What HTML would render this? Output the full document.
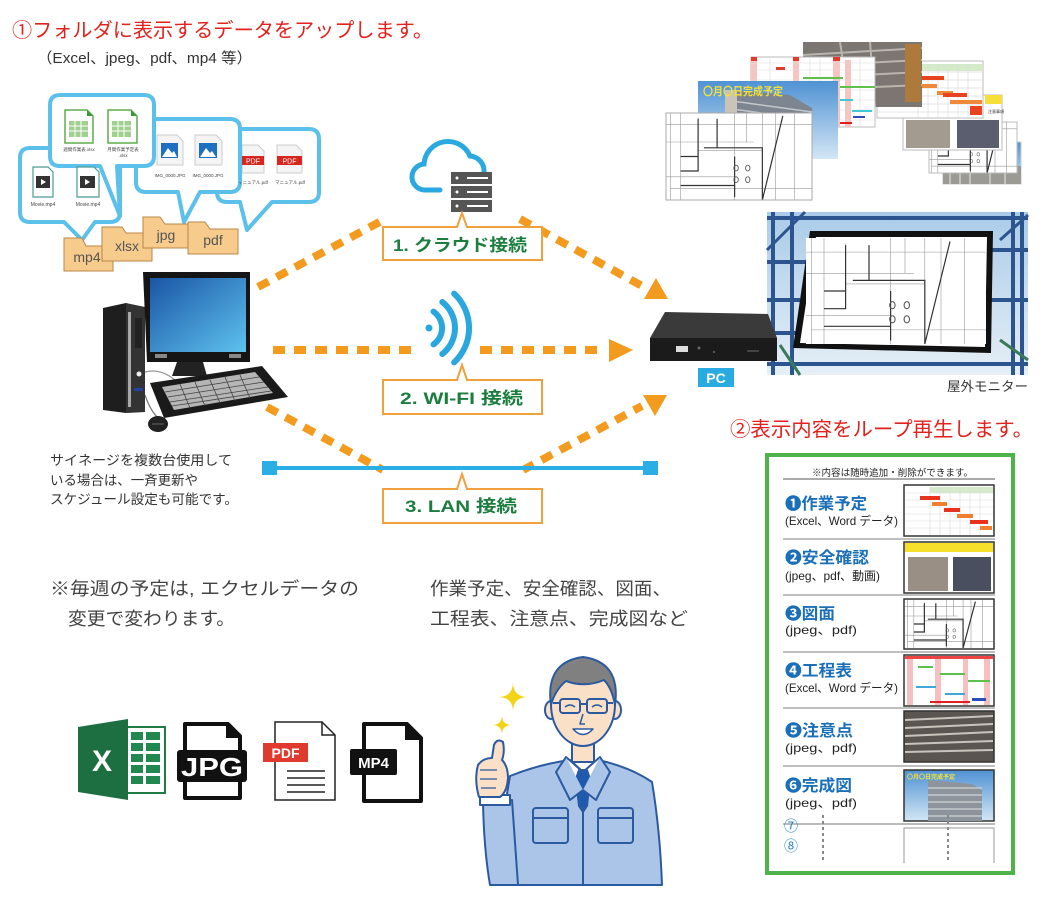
<!DOCTYPE html>
<html><head><meta charset="utf-8">
<style>
html,body{margin:0;padding:0;background:#fff;}
svg{display:block;}
text{font-family:"Liberation Sans","Noto Sans CJK JP",sans-serif;}
</style></head><body>
<svg width="1063" height="914" viewBox="0 0 1063 914" xmlns="http://www.w3.org/2000/svg">
<defs>
<linearGradient id="scr" x1="0" y1="0" x2="1" y2="1"><stop offset="0" stop-color="#1a55a5"/><stop offset="1" stop-color="#5ec2ee"/></linearGradient>
<linearGradient id="sky" x1="0" y1="0" x2="0" y2="1"><stop offset="0" stop-color="#4f92d3"/><stop offset="1" stop-color="#d3e6f5"/></linearGradient>
<linearGradient id="sky3" x1="0" y1="0" x2="0" y2="1"><stop offset="0" stop-color="#a9cbe8"/><stop offset="1" stop-color="#e6eff6"/></linearGradient>
<symbol id="plan" viewBox="0 0 100 60" preserveAspectRatio="none">
<rect x="0" y="0" width="100" height="60" fill="#fff"/>
<path d="M3,0V60 M10,0V60 M22,3V38 M47,0V60 M66,0V60 M88,0V60 M0,8H100 M0,20H60 M22,26H66 M0,44H47 M3,52H100 M75,0V60 M55,0V20" fill="none" stroke="#999" stroke-width="0.6" vector-effect="non-scaling-stroke"/>
<path d="M22,4V40H10 M35,4V24H66V60 M26,24H40 M80,2L66,60 M10,50H47 M10,30H22 M47,30V58" fill="none" stroke="#333" stroke-width="1.2" vector-effect="non-scaling-stroke"/>
<g fill="none" stroke="#555" stroke-width="0.6" vector-effect="non-scaling-stroke">
<ellipse cx="48" cy="38" rx="1.5" ry="2"/><ellipse cx="56" cy="38" rx="1.5" ry="2"/><ellipse cx="48" cy="46" rx="1.5" ry="2"/><ellipse cx="56" cy="46" rx="1.5" ry="2"/>
</g>
</symbol>
</defs>

<!-- Titles -->
<text x="12" y="37" font-size="20" fill="#e3211d" textLength="421" lengthAdjust="spacingAndGlyphs">①フォルダに表示するデータをアップします。</text>
<text x="37" y="63" font-size="15" fill="#333" textLength="215" lengthAdjust="spacingAndGlyphs">（Excel、jpeg、pdf、mp4 等）</text>

<!-- Bubbles -->
<g fill="#fff" stroke="#5bc0ea" stroke-width="4" stroke-linejoin="round">
<path d="M227,129 H309 Q319,129 319,139 V192 Q319,202 309,202 H272 L247,230 L240,202 H227 Q217,202 217,192 V139 Q217,129 227,129 Z"/>
<path d="M30,148 H110 Q120,148 120,158 V212 Q120,222 110,222 H95 L82,240 L64,222 H30 Q20,222 20,212 V158 Q20,148 30,148 Z"/>
<path d="M146,119 H230 Q240,119 240,129 V182 Q240,192 230,192 H200 L184,222 L178,192 H146 Q136,192 136,182 V129 Q136,119 146,119 Z"/>
<path d="M60,95 H144 Q154,95 154,105 V156 Q154,166 144,166 H117 L120,216 L100,166 H60 Q50,166 50,156 V105 Q50,95 60,95 Z"/>
</g>
<!-- bubble 1 icons: video -->
<g>
<path d="M33,167 H48 L53,172 V197 H33 Z" fill="#fff" stroke="#4a9c94" stroke-width="1.2"/>
<rect x="36" y="176" width="14" height="12" fill="#333"/><path d="M41,179 L46,182 L41,185 Z" fill="#fff"/>
<path d="M77,167 H94 L99,172 V197 H77 Z" fill="#fff" stroke="#4a9c94" stroke-width="1.2"/>
<rect x="80" y="176" width="15" height="12" fill="#333"/><path d="M85,179 L90,182 L85,185 Z" fill="#fff"/>
<text x="43" y="206" font-size="5" fill="#444" text-anchor="middle">Movie.mp4</text>
<text x="88" y="206" font-size="5" fill="#444" text-anchor="middle">Movie.mp4</text>
</g>
<!-- bubble 2 icons: xlsx -->
<g>
<path d="M65,110 H87 L93,116 V143 H65 Z" fill="#fff" stroke="#5cae4a" stroke-width="1.5"/><path d="M87,110 L93,116 H87 Z" fill="#3a9a3a"/>
<rect x="69" y="121" width="19" height="16" fill="#9fd08f"/><path d="M69,126H88 M69,131H88 M75,121V137 M81,121V137" stroke="#fff" stroke-width="1"/>
<path d="M108,110 H131 L137,116 V143 H108 Z" fill="#fff" stroke="#5cae4a" stroke-width="1.5"/><path d="M131,110 L137,116 H131 Z" fill="#3a9a3a"/>
<rect x="112" y="121" width="19" height="16" fill="#9fd08f"/><path d="M112,126H131 M112,131H131 M118,121V137 M124,121V137" stroke="#fff" stroke-width="1"/>
<text x="79" y="151" font-size="4.5" fill="#444" text-anchor="middle">週間作業表.xlsx</text>
<text x="123" y="151" font-size="4.5" fill="#444" text-anchor="middle">月間作業予定表</text>
<text x="123" y="157" font-size="4.5" fill="#444" text-anchor="middle">.xlsx</text>
</g>
<!-- bubble 3 icons: image -->
<g>
<path d="M157,135 H177 L183,141 V165 H157 Z" fill="#f4f4f4" stroke="#ccc" stroke-width="1"/>
<rect x="161" y="143" width="17" height="15" fill="#1f6fc0"/><path d="M162,157 L168,148 L172,153 L174,151 L177,157 Z" fill="#fff"/>
<path d="M195,135 H216 L222,141 V165 H195 Z" fill="#f4f4f4" stroke="#ccc" stroke-width="1"/>
<rect x="199" y="143" width="18" height="15" fill="#1f6fc0"/><path d="M200,157 L206,148 L210,153 L212,151 L216,157 Z" fill="#fff"/>
<text x="170" y="177" font-size="4.5" fill="#444" text-anchor="middle">IMG_0000.JPG</text>
<text x="208" y="177" font-size="4.5" fill="#444" text-anchor="middle">IMG_0000.JPG</text>
</g>
<!-- bubble 4 icons: pdf -->
<g>
<path d="M242,145 H258 L264,151 V173 H242 Z" fill="#f4f4f4" stroke="#ccc" stroke-width="1"/>
<rect x="242" y="156" width="22" height="9" fill="#d7261e"/><text x="253" y="163.5" font-size="7" fill="#fff" text-anchor="middle">PDF</text>
<path d="M277,145 H296 L302,151 V173 H277 Z" fill="#f4f4f4" stroke="#ccc" stroke-width="1"/>
<rect x="277" y="156" width="25" height="9" fill="#d7261e"/><text x="289.5" y="163.5" font-size="7" fill="#fff" text-anchor="middle">PDF</text>
<text x="253" y="184" font-size="4.5" fill="#444" text-anchor="middle">マニュアル.pdf</text>
<text x="290" y="184" font-size="4.5" fill="#444" text-anchor="middle">マニュアル.pdf</text>
</g>
<!-- re-draw bubble 3 border over bubble 4 icon region -->
<path d="M240,129 V182" stroke="#5bc0ea" stroke-width="4" fill="none"/>

<!-- Folders -->
<g fill="#f7cb8c" stroke="#b8874a" stroke-width="1">
<path d="M64,238 H82 L86,246 H113 V271 H64 Z"/>
<path d="M102,227 H122 L126,233 H152 V261 H102 Z"/>
<path d="M143,217 H160 L165,224 H188 V248 H143 Z"/>
<path d="M188,222 H205 L210,229 H238 V254 H188 Z"/>
</g>
<g font-size="14" fill="#555" text-anchor="middle">
<text x="87" y="262">mp4</text>
<text x="127" y="251">xlsx</text>
<text x="166" y="240">jpg</text>
<text x="213" y="245">pdf</text>
</g>

<!-- Desktop PC -->
<g>
<path d="M145,395 Q150,410 158,418" stroke="#777" stroke-width="1.2" fill="none"/>
<path d="M145,372 Q160,368 175,380" stroke="#999" stroke-width="1.2" fill="none"/>
<polygon points="103,308 126,303 126,413 103,410" fill="#1e1e1e"/>
<polygon points="126,303 145,307 145,412 126,413" fill="#333"/>
<rect x="128" y="312" width="3" height="95" fill="#a8a8a8"/>
<rect x="135" y="318" width="7" height="30" fill="#222"/>
<circle cx="139" cy="374" r="2.5" fill="#eee"/>
<rect x="134" y="388" width="9" height="3" fill="#2443a0"/>
<polygon points="143,272 250,272 250,362 147,362" fill="#151515"/>
<rect x="150" y="278" width="96" height="74" fill="url(#scr)"/>
<rect x="155" y="354" width="12" height="4" fill="#888"/><rect x="229" y="354" width="12" height="4" fill="#888"/>
<polygon points="177,362 203,362 207,376 172,376" fill="#222"/>
<polygon points="150,383 262,366 288,397 164,418" fill="#1a1a1a"/>
<polygon points="162,387 255,372 273,393 174,410" fill="#b5b5b5"/>
<g stroke="#444" stroke-width="0.8">
<path d="M165,392 L259,377 M168,397 L264,382 M170,402 L268,387 M172,406 L271,391"/>
<path d="M180,384 L190,408 M195,382 L205,406 M210,380 L220,403 M225,377 L235,401 M240,375 L250,398"/>
</g>
<ellipse cx="158" cy="424" rx="10" ry="8" fill="#222"/>
<path d="M152,424 H164" stroke="#666" stroke-width="1"/>
</g>
<g font-size="13.5" fill="#333">
<text x="50" y="465" textLength="182" lengthAdjust="spacingAndGlyphs">サイネージを複数台使用して</text>
<text x="50" y="485" textLength="148" lengthAdjust="spacingAndGlyphs">いる場合は、一斉更新や</text>
<text x="50" y="504" textLength="188" lengthAdjust="spacingAndGlyphs">スケジュール設定も可能です。</text>
</g>

<!-- Dashed connectors -->
<g stroke="#f39b1f" stroke-width="8" stroke-dasharray="12 9" fill="none">
<path d="M258,287 L387,218"/>
<path d="M520,219 L642,286"/>
<path d="M273,350 H418"/>
<path d="M480,350 H602"/>
<path d="M267,407 L383,470"/>
<path d="M523,470 L642,406"/>
</g>
<g fill="#f39b1f">
<polygon points="644,299 668,299 656,278"/>
<polygon points="609,339 633,350 609,362"/>
<polygon points="643,395 667,395 655,416"/>
</g>

<!-- LAN line -->
<path d="M270,468 H650" stroke="#2aaee6" stroke-width="4"/>
<rect x="262" y="461" width="15" height="14" fill="#2aaee6"/>
<rect x="643" y="461" width="15" height="14" fill="#2aaee6"/>

<!-- Cloud + server -->
<path d="M440,190 H426 A13,13 0 0 1 424,164 A24,24 0 0 1 470,156 A15,15 0 0 1 484,172" fill="none" stroke="#29a9e0" stroke-width="5" stroke-linecap="round"/>
<g fill="#555">
<rect x="451" y="172" width="41" height="12"/>
<rect x="451" y="186" width="41" height="12"/>
<rect x="451" y="200" width="41" height="12"/>
</g>
<g fill="#fff"><circle cx="457" cy="178" r="1.5"/><circle cx="457" cy="192" r="1.5"/><circle cx="457" cy="206" r="1.5"/>
<rect x="467" y="177" width="21" height="2"/><rect x="467" y="191" width="21" height="2"/><rect x="467" y="205" width="21" height="2"/></g>

<!-- WiFi -->
<g stroke="#2aa7df" stroke-width="6" fill="none" stroke-linecap="round">
<path d="M433.5,311.6 A20,20 0 0 1 433.5,344.4"/>
<path d="M442.3,302 A33,33 0 0 1 442.3,354"/>
<path d="M454.1,293.6 A47,47 0 0 1 454.1,362.4"/>
</g>
<circle cx="429" cy="328" r="3.5" fill="#2aa7df"/>

<!-- Label boxes -->
<g fill="#fff" stroke="#f0a03c" stroke-width="2">
<path d="M383,227 H457 L462,213 L467,227 H542 V260 H383 Z"/>
<path d="M383,380 H457 L462,365 L467,380 H542 V414 H383 Z"/>
<path d="M383,489 H457 L462,474 L467,489 H542 V523 H383 Z"/>
</g>
<g font-size="17" font-weight="bold" fill="#1b7d3e">
<text x="393" y="251" textLength="134" lengthAdjust="spacingAndGlyphs">1. クラウド接続</text>
<text x="400" y="404" textLength="123" lengthAdjust="spacingAndGlyphs">2. WI-FI 接続</text>
<text x="405" y="512" textLength="112" lengthAdjust="spacingAndGlyphs">3. LAN 接続</text>
</g>

<!-- Collage top right -->
<g>
<!-- H building small -->
<rect x="943" y="142" width="78" height="42" fill="url(#sky)" stroke="#ccc"/>
<rect x="943" y="166" width="78" height="18" fill="#9b9a95"/>
<path d="M950,166V184 M960,166V184 M970,166V184 M990,166V184 M1005,166V184" stroke="#cfcfcf" stroke-width="1.5"/>
<!-- G plan small -->
<use href="#plan" x="929" y="122" width="88" height="51"/>
<rect x="929" y="122" width="88" height="51" fill="none" stroke="#bbb"/>
<!-- F safety doc -->
<rect x="903" y="95" width="99" height="55" fill="#fff" stroke="#bbb"/>
<rect x="985" y="95" width="17" height="9" fill="#f6df3a"/>
<rect x="906" y="120" width="44" height="28" fill="#a39a90"/>
<rect x="957" y="120" width="42" height="28" fill="#5a5e6e"/>
<text x="988" y="113" font-size="4" fill="#333">注意事項</text>
<!-- E excel gantt -->
<rect x="877" y="61" width="106" height="57" fill="#fff" stroke="#bbb"/>
<rect x="918" y="64" width="65" height="7" fill="#d4eac8"/>
<path d="M877,72H983 M877,80H983 M877,88H983 M877,96H983 M877,104H983 M877,112H983 M918,61V118 M928,64V118 M938,64V118 M948,64V118 M958,64V118 M968,64V118" stroke="#ddd" stroke-width="0.7"/>
<g><rect x="922" y="76" width="22" height="4" fill="#e8421e"/><rect x="920" y="84" width="17" height="4" fill="#f08a3a"/><rect x="937" y="91" width="16" height="4" fill="#f08a3a"/><rect x="943" y="93" width="24" height="4" fill="#e8421e"/><rect x="950" y="100" width="32" height="4" fill="#f08a3a"/><rect x="970" y="106" width="12" height="9" fill="#e8421e"/></g>
<!-- D construction photo -->
<rect x="803" y="42" width="119" height="65" fill="#7b7671"/>
<path d="M803,55 L922,48 M803,66 L922,60 M803,78 L922,72 M803,90 L922,85 M840,42 L850,107 M870,42 L875,107" stroke="#b9b5ae" stroke-width="2"/>
<rect x="905" y="44" width="16" height="58" fill="#ad7a3c"/>
<!-- C pink gantt -->
<rect x="751" y="57" width="124" height="70" fill="#fff" stroke="#bbb"/>
<g fill="#f7c4c0"><rect x="751" y="60" width="6" height="67"/><rect x="793" y="60" width="6" height="67"/><rect x="833" y="60" width="7" height="67"/><rect x="845" y="60" width="6" height="67"/></g>
<path d="M751,63H875 M751,70H875 M751,80H875 M751,90H875 M751,100H875 M751,110H875 M751,120H875 M770,57V127 M810,57V127 M820,57V127 M860,57V127" stroke="#ddd" stroke-width="0.6"/>
<g><rect x="751" y="57" width="6" height="4" fill="#e23a2a"/><rect x="793" y="57" width="6" height="4" fill="#e23a2a"/><rect x="833" y="57" width="7" height="4" fill="#e23a2a"/><rect x="776" y="67" width="9" height="3" fill="#e23a2a"/><rect x="803" y="77" width="40" height="2" fill="#5ec24a"/><rect x="840" y="86" width="35" height="2" fill="#5ec24a"/><rect x="840" y="99" width="13" height="2" fill="#40c8d8"/><rect x="852" y="110" width="20" height="2" fill="#40c8d8"/><rect x="853" y="116" width="12" height="2" fill="#2a50c0"/><rect x="840" y="122" width="12" height="2" fill="#e02020"/></g>
<!-- B building photo -->
<rect x="698" y="81" width="140" height="78" fill="url(#sky)"/>
<polygon points="725,90 790,95 812,108 812,159 725,159" fill="#7d8590"/>
<path d="M725,100 L812,112 M725,108 L812,120 M725,116 L812,128 M725,124 L812,136 M725,132 L812,144 M725,140 L812,152" stroke="#c4c8cc" stroke-width="1.5"/>
<rect x="725" y="90" width="12" height="69" fill="#c9c3b8"/>
<text x="703" y="95" font-size="11" font-weight="bold" fill="#f2e03a" textLength="80" lengthAdjust="spacingAndGlyphs">〇月〇日完成予定</text>
<!-- A plan front -->
<use href="#plan" x="666" y="113" width="146" height="87"/>
<rect x="666" y="113" width="146" height="87" fill="none" stroke="#aaa"/>
</g>

<!-- Monitor photo -->
<rect x="767" y="212" width="261" height="163" fill="url(#sky3)"/>
<g stroke="#2c5590" stroke-width="4" fill="none">
<path d="M773,212V375 M792,212V375 M1013,212V375 M1022,212V375"/>
<path d="M767,218H1028 M767,262H812 M767,300H800 M990,300H1028 M767,333H800 M767,364H1028 M990,250H1028"/>
<path d="M767,250 L805,212 M1000,240 L1028,215" stroke-width="3"/>
</g>
<path d="M780,345 L800,375 M1000,340 L1028,360" stroke="#3a7a5a" stroke-width="3"/>
<polygon points="810,231 993,231 991,353 793,348" fill="#111"/>
<polygon points="816,237 987,237 985,347 800,343" fill="#fff"/>
<use href="#plan" x="806" y="238" width="180" height="106"/>

<!-- Set-top PC -->
<polygon points="665,312 768,314 777,338 650,338" fill="#3a3a3a"/>
<rect x="650" y="338" width="127" height="23" fill="#1b1b1b"/>
<rect x="676" y="346" width="12" height="6" fill="#ddd"/>
<circle cx="699" cy="348" r="1.5" fill="#666"/><circle cx="714" cy="352" r="1.2" fill="#555"/>
<rect x="747" y="350" width="12" height="2" fill="#444"/>
<rect x="698" y="368" width="36" height="19" fill="#29abe2"/>
<text x="716" y="383" font-size="14" font-weight="bold" fill="#fff" text-anchor="middle">PC</text>
<text x="947" y="391" font-size="13" fill="#333" textLength="81" lengthAdjust="spacingAndGlyphs">屋外モニター</text>

<text x="730" y="436" font-size="20" fill="#e3211d" textLength="303" lengthAdjust="spacingAndGlyphs">②表示内容をループ再生します。</text>

<!-- Green panel -->
<rect x="767" y="455" width="246" height="418" fill="#fff" stroke="#4db34a" stroke-width="4"/>
<text x="812" y="476" font-size="9.5" fill="#222" textLength="161" lengthAdjust="spacingAndGlyphs">※内容は随時追加・削除ができます。</text>
<path d="M783,479H995" stroke="#555" stroke-width="1"/>
<g stroke="#aaa" stroke-width="1.5">
<path d="M783,539H995 M783,595H995 M783,652H995 M783,708H995 M783,766H995"/>
</g>
<path d="M783,824H995" stroke="#777" stroke-width="1"/>
<g font-size="16" font-weight="bold" fill="#1a6fb8">
<text x="785" y="509" textLength="82" lengthAdjust="spacingAndGlyphs">❶作業予定</text>
<text x="785" y="563" textLength="84" lengthAdjust="spacingAndGlyphs">❷安全確認</text>
<text x="785" y="619" textLength="50" lengthAdjust="spacingAndGlyphs">❸図面</text>
<text x="785" y="676" textLength="67" lengthAdjust="spacingAndGlyphs">❹工程表</text>
<text x="785" y="736" textLength="68" lengthAdjust="spacingAndGlyphs">❺注意点</text>
<text x="785" y="791" textLength="67" lengthAdjust="spacingAndGlyphs">❻完成図</text>
</g>
<g font-size="12" fill="#222">
<text x="785" y="525" textLength="113" lengthAdjust="spacingAndGlyphs">(Excel、Word データ)</text>
<text x="785" y="580" textLength="95" lengthAdjust="spacingAndGlyphs">(jpeg、pdf、動画)</text>
<text x="785" y="634" textLength="72" lengthAdjust="spacingAndGlyphs">(jpeg、pdf)</text>
<text x="785" y="692" textLength="113" lengthAdjust="spacingAndGlyphs">(Excel、Word データ)</text>
<text x="785" y="752" textLength="72" lengthAdjust="spacingAndGlyphs">(jpeg、pdf)</text>
<text x="785" y="807" textLength="72" lengthAdjust="spacingAndGlyphs">(jpeg、pdf)</text>
</g>
<!-- row images -->
<g>
<rect x="904" y="485" width="90" height="51" fill="#fff" stroke="#333" stroke-width="1.5"/>
<rect x="930" y="487" width="63" height="6" fill="#d4eac8"/>
<path d="M905,493H993 M905,500H993 M905,507H993 M905,514H993 M905,521H993 M905,528H993 M930,487V535 M940,487V535 M950,487V535 M960,487V535 M970,487V535 M980,487V535" stroke="#ddd" stroke-width="0.6"/>
<rect x="920" y="496" width="20" height="4" fill="#e8321e"/><rect x="932" y="502" width="15" height="4" fill="#f08030"/><rect x="944" y="508" width="16" height="4" fill="#e8321e"/><rect x="957" y="514" width="16" height="4" fill="#f08030"/><rect x="970" y="520" width="18" height="4" fill="#e8321e"/><rect x="980" y="526" width="12" height="4" fill="#f08030"/>

<rect x="904" y="542" width="90" height="51" fill="#fff" stroke="#333" stroke-width="1.5"/>
<rect x="905" y="543" width="88" height="9" fill="#f5e12c"/>
<rect x="908" y="557" width="40" height="34" fill="#9a8f85"/>
<rect x="953" y="557" width="38" height="34" fill="#4a4f60"/>

<use href="#plan" x="905" y="600" width="88" height="48"/>
<rect x="904" y="599" width="90" height="50" fill="none" stroke="#333" stroke-width="1.5"/>

<rect x="904" y="655" width="90" height="51" fill="#fff" stroke="#333" stroke-width="1.5"/>
<g fill="#f6c0c0"><rect x="907" y="657" width="6" height="48"/><rect x="935" y="657" width="6" height="48"/><rect x="963" y="657" width="5" height="48"/><rect x="984" y="657" width="6" height="48"/></g>
<rect x="905" y="656" width="88" height="3" fill="#e44"/>
<rect x="918" y="666" width="15" height="2" fill="#5ec24a"/><rect x="940" y="673" width="25" height="2" fill="#5ec24a"/><rect x="968" y="680" width="22" height="2" fill="#5ec24a"/><rect x="916" y="686" width="20" height="2" fill="#40a8d8"/><rect x="945" y="693" width="20" height="2" fill="#40a8d8"/><rect x="930" y="701" width="40" height="2" fill="#e02020"/><rect x="972" y="698" width="14" height="3" fill="#2a50c0"/>

<rect x="904" y="711" width="90" height="51" fill="#5a5550" stroke="#333" stroke-width="1.5"/>
<path d="M905,720 L993,716 M905,728 L993,724 M905,736 L993,732 M905,744 L993,741 M905,752 L993,750" stroke="#c8c4bd" stroke-width="2"/>

<rect x="904" y="770" width="90" height="51" fill="url(#sky)" stroke="#333" stroke-width="1.5"/>
<polygon points="928,780 972,784 982,790 982,821 928,821" fill="#8e949b"/>
<path d="M928,788H982 M928,795H982 M928,802H982 M928,809H982 M928,816H982" stroke="#d0d3d6" stroke-width="1.2"/>
<text x="907" y="779" font-size="6" fill="#f2e03a" font-weight="bold">〇月〇日完成予定</text>
</g>
<text x="784" y="831" font-size="14" fill="#2a7fc0">⑦</text>
<text x="784" y="851" font-size="14" fill="#2a7fc0">⑧</text>
<path d="M823,815V862 M948,815V862" stroke="#888" stroke-width="2" stroke-dasharray="3 3"/>
<path d="M904,863V828H994V863" fill="none" stroke="#999" stroke-width="1"/>

<!-- Bottom texts -->
<g font-size="18" fill="#444">
<text x="50" y="595" textLength="309" lengthAdjust="spacingAndGlyphs">※毎週の予定は, エクセルデータの</text>
<text x="68" y="625" textLength="167" lengthAdjust="spacingAndGlyphs">変更で変わります。</text>
<text x="430" y="595" textLength="241" lengthAdjust="spacingAndGlyphs">作業予定、安全確認、図面、</text>
<text x="430" y="625" textLength="258" lengthAdjust="spacingAndGlyphs">工程表、注意点、完成図など</text>
</g>

<!-- File type icons -->
<!-- Excel -->
<rect x="126" y="727" width="39" height="66" fill="#fff" stroke="#1f7a45" stroke-width="2"/>
<g fill="#21894f"><rect x="131" y="732" width="12" height="8"/><rect x="146" y="732" width="14" height="8"/><rect x="131" y="743" width="12" height="8"/><rect x="146" y="743" width="14" height="8"/><rect x="131" y="754" width="12" height="8"/><rect x="146" y="754" width="14" height="8"/><rect x="131" y="765" width="12" height="8"/><rect x="146" y="765" width="14" height="8"/><rect x="131" y="776" width="12" height="8"/><rect x="146" y="776" width="14" height="8"/></g>
<polygon points="78,727 128,719 128,800 78,792" fill="#1d6f42"/>
<text x="102" y="771" font-size="30" font-weight="bold" fill="#fff" text-anchor="middle">X</text>
<!-- JPG -->
<path d="M185,724 H228 L240,736 V798 H185 Z" fill="#fff" stroke="#111" stroke-width="4" stroke-linejoin="round"/>
<path d="M226,724 V738 H240 Z" fill="#111"/>
<rect x="177" y="750" width="70" height="32" rx="3" fill="#111"/>
<text x="212" y="776" font-size="26" font-weight="bold" fill="#fff" text-anchor="middle" textLength="62" lengthAdjust="spacingAndGlyphs">JPG</text>
<!-- PDF -->
<path d="M275,722 H322 L335,735 V800 H275 Z" fill="#fff" stroke="#222" stroke-width="1.5"/>
<path d="M322,722 V735 H335" fill="none" stroke="#222" stroke-width="1.5"/>
<rect x="263" y="743" width="45" height="19" fill="#e03a2e"/>
<text x="285.5" y="758" font-size="14" font-weight="bold" fill="#fff" text-anchor="middle">PDF</text>
<path d="M287,771H325 M287,778H325 M287,785H325 M287,792H325" stroke="#222" stroke-width="1.5"/>
<!-- MP4 -->
<path d="M364,724 H407 L421,738 V801 H364 Z" fill="#fff" stroke="#111" stroke-width="4" stroke-linejoin="round"/>
<path d="M405,724 V740 H421 Z" fill="#111"/>
<rect x="350" y="749" width="47" height="26" rx="2" fill="#111"/>
<text x="373.5" y="768" font-size="15" font-weight="bold" fill="#fff" text-anchor="middle">MP4</text>

<!-- Sparkles -->
<g fill="#f3d315">
<path d="M513,682 Q513,697 528,697 Q513,697 513,712 Q513,697 498,697 Q513,697 513,682 Z"/>
<path d="M502,715 Q502,725 512,725 Q502,725 502,735 Q502,725 492,725 Q502,725 502,715 Z"/>
</g>

<!-- Man -->
<g stroke="#2b5aa0" stroke-width="2" stroke-linejoin="round">
<!-- body -->
<path d="M510,776 Q540,764 570,760 L583,772 L598,760 Q630,767 652,782 Q660,830 662,885 L505,885 Q500,840 506,800 Z" fill="#aac5e8"/>
<!-- left sleeve -->
<path d="M483,803 L512,800 L518,885 L490,885 Q484,850 483,803 Z" fill="#aac5e8"/>
<rect x="480" y="795" width="30" height="10" fill="#fff"/>
<!-- hand -->
<path d="M479,797 Q474,780 478,765 Q483,758 492,758 L494,745 Q497,738 503,742 Q505,752 502,760 Q508,766 508,778 Q507,792 500,797 Z" fill="#fbe0c8"/>
<path d="M480,770 H497 M480,779 H497 M481,788 H496" fill="none" stroke-width="1.2"/>
<!-- neck -->
<rect x="572" y="738" width="22" height="24" fill="#fbe0c8"/>
<!-- shirt -->
<polygon points="566,757 583,772 600,757 600,778 583,792 566,778" fill="#fff"/>
<!-- tie -->
<polygon points="579,770 587,770 590,779 587,806 583,812 579,806 576,779" fill="#1e5bb0"/>
<!-- lapels -->
<path d="M566,757 L556,772 L570,800 L583,790" fill="#aac5e8"/>
<path d="M600,757 L610,772 L596,800 L583,790" fill="#aac5e8"/>
<path d="M583,805 V885" fill="none"/>
<!-- pockets -->
<rect x="533" y="808" width="35" height="35" rx="3" fill="#aac5e8"/>
<path d="M533,818 H568" fill="none"/>
<rect x="598" y="808" width="35" height="35" rx="3" fill="#aac5e8"/>
<path d="M598,818 H633" fill="none"/>
<!-- ears -->
<ellipse cx="551" cy="710" rx="6" ry="9" fill="#fbe0c8"/>
<ellipse cx="615" cy="710" rx="6" ry="9" fill="#fbe0c8"/>
<!-- head -->
<ellipse cx="583" cy="704" rx="32" ry="42" fill="#fbe0c8"/>
<!-- hair -->
<path d="M551,705 Q545,662 583,657 Q621,662 615,705 Q612,688 604,680 Q585,688 566,681 Q555,690 551,705 Z" fill="#808080"/>
<!-- glasses -->
<rect x="560" y="699" width="20" height="14" rx="3" fill="none"/>
<rect x="587" y="699" width="20" height="14" rx="3" fill="none"/>
<path d="M580,704 H587 M560,703 H553 M607,703 H613" fill="none"/>
<path d="M565,707 Q570,703 575,707 M592,707 Q597,703 602,707" fill="none" stroke-width="1.5"/>
<path d="M583,714 L580,724 H585" fill="none" stroke-width="1.5"/>
<path d="M573,729 Q583,740 593,729 Z" fill="#fff" stroke-width="1.5"/>
</g>
</svg>
</body></html>
